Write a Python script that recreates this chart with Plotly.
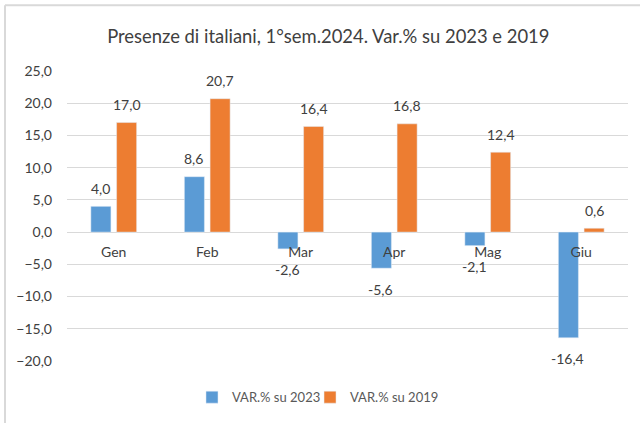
import plotly.graph_objects as go

months = ["Gen", "Feb", "Mar", "Apr", "Mag", "Giu"]
var_2023 = [4.0, 8.6, -2.6, -5.6, -2.1, -16.4]
var_2019 = [17.0, 20.7, 16.4, 16.8, 12.4, 0.6]
series_names = ["VAR.% su 2023", "VAR.% su 2019"]
y_ticks = [25, 20, 15, 10, 5, 0, -5, -10, -15, -20]

FONT = "Lato, Carlito, Calibri, sans-serif"
TXT = "#404040"
COLORS = ["#5B9BD5", "#ED7D31"]
LEGENDS = ["legend", "legend2"]


def fmt(v):
    return f"{v:.1f}".replace(".", ",")


fig = go.Figure()
for name, vals, col, lg in zip(series_names, [var_2023, var_2019], COLORS, LEGENDS):
    fig.add_trace(go.Bar(x=months, y=vals, name=name, marker_color=col,
                         legend=lg, showlegend=True))

# value labels (Excel-like distance from the bar end)
annotations = []
for vals, xshift in [(var_2023, -13.5), (var_2019, 13)]:
    for m, v in zip(months, vals):
        annotations.append(dict(
            x=m, y=v, xref="x", yref="y", text=fmt(v), showarrow=False,
            xshift=xshift, yshift=18 if v >= 0 else -21, yanchor="middle",
            font=dict(size=14, color=TXT, family=FONT)))

legend_style = dict(orientation="h", xanchor="left", y=-0.121, yanchor="middle",
                    font=dict(size=13, color="#595959", family=FONT),
                    itemwidth=30, bgcolor="rgba(0,0,0,0)", visible=True)

fig.update_layout(
    width=640, height=423,
    margin=dict(l=67, r=12, t=71, b=61),
    paper_bgcolor="white", plot_bgcolor="white",
    separators=",.",
    showlegend=True,
    barmode="group", bargap=0.45, bargroupgap=0.22,
    title=dict(text="Presenze di italiani, 1°sem.2024. Var.% su 2023 e 2019",
               x=0.513, xanchor="center", y=0.914, yanchor="middle",
               font=dict(size=18.4, color=TXT, family=FONT)),
    font=dict(family=FONT, color="#595959"),
    legend=dict(x=0.2228, **legend_style),
    legend2=dict(x=0.4332, **legend_style),
    xaxis=dict(anchor="free", position=20 / 45, showline=False, ticks="",
               tickfont=dict(size=14, color=TXT, family=FONT), showgrid=False,
               ticklabelstandoff=10),
    yaxis=dict(range=[-20, 25], tickvals=y_ticks, tickformat=".1f",
               gridcolor="#D9D9D9", gridwidth=1, zeroline=True,
               zerolinecolor="#D9D9D9", zerolinewidth=1,
               tickfont=dict(size=14, color=TXT, family=FONT), ticklabelstandoff=14),
    annotations=annotations,
    shapes=[
        dict(type="line", xref="paper", yref="paper",
             x0=-0.1105, x1=-0.1105, y0=-0.3, y1=1.2268,
             line=dict(color="#D9D9D9", width=2)),
        dict(type="line", xref="paper", yref="paper",
             x0=-0.1105, x1=1.1, y0=1.2268, y1=1.2268,
             line=dict(color="#D9D9D9", width=2)),
    ],
)

fig.write_html("out.html", config={"displayModeBar": False},
               post_script="document.body.style.margin='0';")
